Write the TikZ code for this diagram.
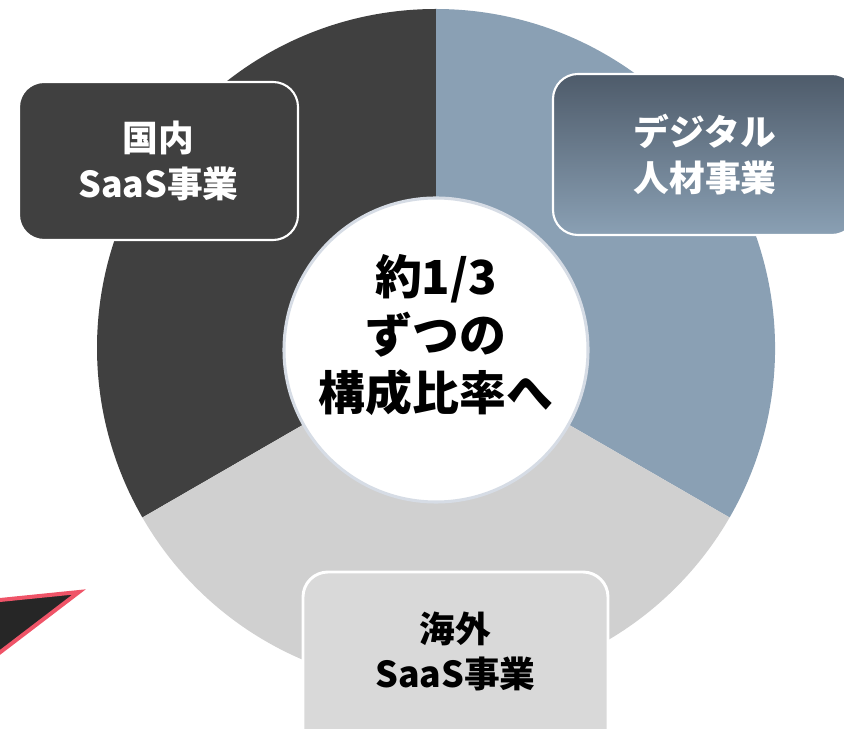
\documentclass[tikz,border=0pt]{standalone}
\usepackage{fontspec}
\setmainfont{Noto Sans CJK JP}
\definecolor{domdark}{HTML}{404040}
\definecolor{digblue}{HTML}{8AA0B4}
\definecolor{digtop}{HTML}{4E5B6A}
\definecolor{ovsgray}{HTML}{D0D0D0}
\definecolor{ovsbox}{HTML}{D9D9D9}
\definecolor{hubring}{HTML}{D6DCE5}
\definecolor{arrowred}{HTML}{EF5468}
\definecolor{arrowfill}{HTML}{262626}
\tikzset{
  segbox/.style={rectangle,rounded corners=7.5mm,draw=white,line width=1.8pt,
    align=center,inner sep=0pt,font=\bfseries\fontsize{30.5}{39}\selectfont},
  segtext/.style={align=center,inner sep=0pt,font=\bfseries\fontsize{30.5}{39}\selectfont},
  hub/.style={circle,fill=white,draw=hubring,line width=2.6pt,minimum size=9.12cm,inner sep=0pt},
  hubtext/.style={align=center,inner sep=0pt,font=\bfseries\fontsize{40}{49.5}\selectfont}
}
\begin{document}
\begin{tikzpicture}[x=0.03cm,y=0.03cm]
\useasboundingbox (0,0) rectangle (844,728);
% pie slices
\coordinate (pc) at (436,380);
\fill[domdark] (pc) -- ++(90:339) arc[start angle=90,end angle=210,radius=339] -- cycle;
\fill[digblue] (pc) -- ++(-30:339) arc[start angle=-30,end angle=90,radius=339] -- cycle;
\fill[ovsgray] (pc) -- ++(210:339) arc[start angle=210,end angle=330,radius=339] -- cycle;
% centre
\node[hub] (hub) at (436,378) {};
\node[hubtext] (hubtxt) at (436,393) {約1/3\\ずつの\\構成比率へ};
% segment labels
\node[segbox,fill=domdark,text=white,minimum width=8.37cm,minimum height=4.74cm]
  (dom) at (158.5,567) {国内\\SaaS事業};
\node[segbox,top color=digtop,bottom color=digblue,text=white,minimum width=9.12cm,minimum height=4.83cm]
  (dig) at (705,573.5) {デジタル\\人材事業};
\node[segbox,fill=ovsbox,line width=2.5pt,minimum width=9.15cm,minimum height=5.7cm]
  (ovs) at (455.5,61) {};
\node[segtext,text=black] (ovstxt) at (455.5,76.5) {海外\\SaaS事業};
% arrow tip at the edge
\filldraw[fill=arrowfill,draw=arrowred,line width=3.4pt,miter limit=20]
  (79,136) -- (-10,127) -- (-10,68) -- cycle;
\end{tikzpicture}
\end{document}
